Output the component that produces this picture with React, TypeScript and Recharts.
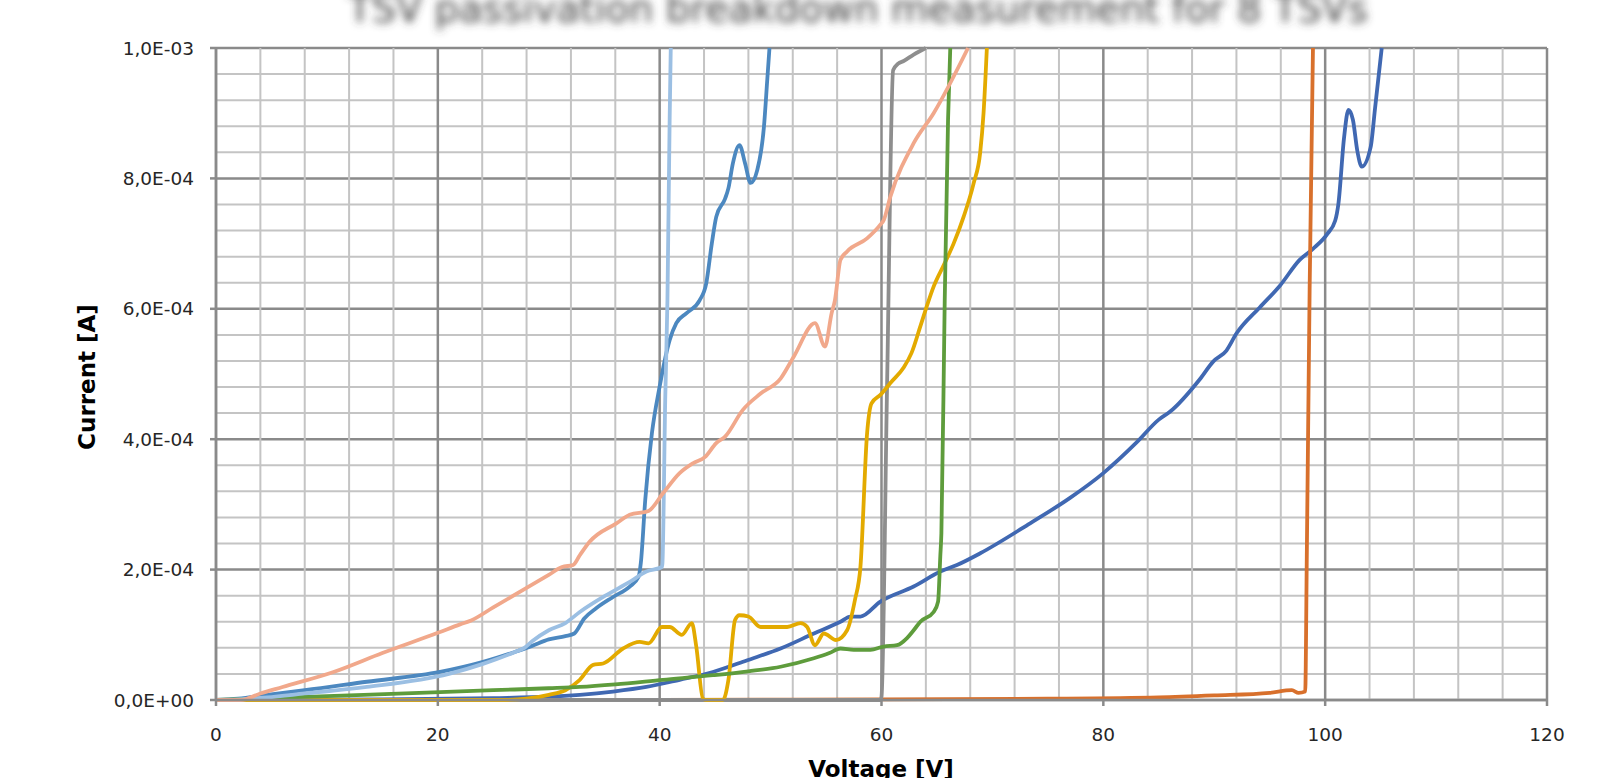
import React from 'react';
import { LineChart, Line, XAxis, YAxis, CartesianGrid } from 'recharts';

type P = { x: number; y: number };
const pts = (a: number[][]): P[] => a.map(([x, y]) => ({ x, y }));

// Voltage [V] vs Current [A]
const darkBlue = pts([
  [0, 0], [15, 0.01e-4], [25, 0.03e-4], [30, 0.05e-4], [32.8, 0.08e-4], [35.8, 0.13e-4], [38.8, 0.2e-4],
  [41.8, 0.31e-4], [44.8, 0.43e-4], [47.9, 0.61e-4], [50.9, 0.79e-4], [53.9, 1.02e-4], [56.3, 1.2e-4],
  [57.2, 1.28e-4], [58.1, 1.28e-4], [59.9, 1.51e-4], [62.9, 1.74e-4], [65.3, 1.97e-4], [66.8, 2.07e-4],
  [68.9, 2.25e-4], [73.4, 2.71e-4], [77, 3.1e-4], [80, 3.48e-4], [83, 3.95e-4], [85, 4.3e-4], [86, 4.42e-4],
  [88.7, 4.92e-4], [89.9, 5.19e-4], [91.1, 5.36e-4], [92, 5.62e-4], [94.1, 6.02e-4], [95.9, 6.35e-4],
  [97.7, 6.75e-4], [98.9, 6.92e-4], [100.2, 7.15e-4], [100.9, 7.35e-4], [101.2, 7.62e-4], [101.7, 8.62e-4],
  [102.1, 9.05e-4], [102.5, 8.9e-4], [102.9, 8.42e-4], [103.3, 8.18e-4], [104.1, 8.48e-4], [104.5, 9.08e-4],
  [105.1, 1.0e-3],
]);
const orange = pts([
  [0, 0], [40, 0], [60, 0.01e-4], [75, 0.02e-4], [85, 0.04e-4], [90, 0.07e-4], [95, 0.11e-4], [97, 0.15e-4],
  [97.6, 0.11e-4], [98.2, 0.13e-4], [98.35, 2.3e-4], [98.6, 6.3e-4], [98.9, 1.0e-3],
]);
const gray = pts([
  [0, 0], [59.9, 0], [60.0, 0.05e-4], [60.5, 4.8e-4], [61.05, 9.66e-4], [61.5, 9.76e-4], [62, 9.8e-4],
  [62.9, 9.9e-4], [64, 1.0e-3],
]);
const gold = pts([
  [0, 0], [26, 0], [28, 0.02e-4], [30, 0.08e-4], [31.5, 0.15e-4], [32.8, 0.31e-4], [34.0, 0.54e-4],
  [34.9, 0.56e-4], [36.7, 0.79e-4], [38.2, 0.89e-4], [39.0, 0.87e-4], [40.2, 1.12e-4], [40.9, 1.12e-4],
  [42.0, 1.0e-4], [42.9, 1.18e-4], [43.3, 0.82e-4], [43.9, 0.02e-4], [44.2, 0], [45.7, 0], [46.2, 0.31e-4],
  [46.8, 1.23e-4], [47.2, 1.3e-4], [48.0, 1.28e-4], [49.1, 1.12e-4], [51.5, 1.12e-4], [52.7, 1.18e-4],
  [53.3, 1.12e-4], [54.0, 0.84e-4], [54.8, 1.02e-4], [55.9, 0.92e-4], [56.9, 1.07e-4], [57.6, 1.53e-4],
  [58.1, 2.04e-4], [58.7, 4.09e-4], [59.1, 4.55e-4], [59.9, 4.68e-4], [60.9, 4.88e-4], [62.0, 5.1e-4],
  [62.7, 5.32e-4], [63.5, 5.73e-4], [64.2, 6.1e-4], [64.7, 6.34e-4], [65.7, 6.7e-4], [66.5, 7.0e-4],
  [67.4, 7.41e-4], [68.3, 7.92e-4], [68.9, 8.4e-4], [69.2, 9.0e-4], [69.5, 1.0e-3],
]);
const steelBlue = pts([
  [0, 0], [2, 0.02e-4], [4.6, 0.08e-4], [8, 0.15e-4], [13.6, 0.28e-4], [20.2, 0.43e-4], [24, 0.58e-4],
  [27, 0.74e-4], [28.5, 0.83e-4], [30, 0.93e-4], [31.5, 0.98e-4], [32.3, 1.02e-4], [33.2, 1.25e-4],
  [34.3, 1.41e-4], [35.8, 1.58e-4], [37.3, 1.74e-4], [38.1, 1.89e-4], [38.3, 2.1e-4], [38.7, 3.07e-4],
  [39.3, 4.09e-4], [40.0, 4.81e-4], [40.9, 5.52e-4], [41.5, 5.78e-4], [42.4, 5.93e-4], [43.6, 6.13e-4],
  [44.2, 6.39e-4], [44.7, 7.0e-4], [45.1, 7.41e-4], [45.9, 7.69e-4], [46.2, 7.85e-4], [46.6, 8.23e-4],
  [47.2, 8.51e-4], [47.7, 8.23e-4], [48.2, 7.93e-4], [48.8, 8.13e-4], [49.4, 8.79e-4], [49.7, 9.51e-4],
  [49.9, 1.0e-3],
]);
const green = pts([
  [0, 0], [5, 0.03e-4], [10, 0.06e-4], [20.2, 0.12e-4], [25, 0.15e-4], [30, 0.18e-4], [32.8, 0.2e-4],
  [36, 0.24e-4], [40.3, 0.31e-4], [44.8, 0.38e-4], [48, 0.44e-4], [50.9, 0.51e-4], [53.9, 0.64e-4],
  [55.3, 0.72e-4], [56.3, 0.79e-4], [57.5, 0.77e-4], [59.0, 0.77e-4], [60.2, 0.82e-4], [61.4, 0.84e-4],
  [62.3, 0.95e-4], [62.9, 1.07e-4], [63.5, 1.2e-4], [64.7, 1.35e-4], [65.1, 1.51e-4], [65.3, 2.2e-4],
  [65.4, 2.56e-4], [65.7, 6.13e-4], [66.0, 8.9e-4], [66.2, 1.0e-3],
]);
const lightBlue = pts([
  [0, 0], [2, 0.01e-4], [4.6, 0.04e-4], [8, 0.1e-4], [13.6, 0.2e-4], [21, 0.4e-4], [24, 0.55e-4],
  [27, 0.74e-4], [27.8, 0.8e-4], [28.5, 0.9e-4], [30, 1.07e-4], [31.5, 1.18e-4], [32.8, 1.35e-4],
  [35.2, 1.61e-4], [37.3, 1.81e-4], [38.8, 1.97e-4], [40.2, 2.04e-4], [40.25, 2.1e-4], [40.5, 4.6e-4],
  [40.7, 6.13e-4], [40.9, 8.9e-4], [41.0, 1.0e-3],
]);
const salmon = pts([
  [0, 0], [2.2, 0], [4, 0.1e-4], [6, 0.2e-4], [10.6, 0.43e-4], [15, 0.72e-4], [20, 1.03e-4], [22, 1.16e-4],
  [23, 1.22e-4], [25, 1.42e-4], [28, 1.72e-4], [30, 1.92e-4], [31.2, 2.04e-4], [32.2, 2.07e-4],
  [32.8, 2.22e-4], [33.7, 2.43e-4], [36.1, 2.71e-4], [37.3, 2.84e-4], [39.0, 2.9e-4], [40.3, 3.17e-4],
  [41.8, 3.48e-4], [43.0, 3.63e-4], [44.1, 3.73e-4], [45.1, 3.94e-4], [45.9, 4.04e-4], [47.5, 4.45e-4],
  [49.1, 4.7e-4], [50.9, 4.93e-4], [52.1, 5.27e-4], [54.0, 5.78e-4], [54.9, 5.42e-4], [55.5, 5.93e-4],
  [55.8, 6.13e-4], [56.3, 6.75e-4], [56.9, 6.88e-4], [58.7, 7.08e-4], [59.9, 7.29e-4], [60.2, 7.36e-4],
  [60.8, 7.72e-4], [62.9, 8.54e-4], [64.7, 9.0e-4], [67.8, 1.0e-3],
]);

const xMajorTicks = [0, 20, 40, 60, 80, 100, 120];
const xMinorTicks = [0, 4, 8, 12, 16, 20, 24, 28, 32, 36, 40, 44, 48, 52, 56, 60, 64, 68, 72, 76, 80, 84, 88, 92, 96, 100, 104, 108, 112, 116, 120];
const yMajorTicks = [0, 2e-4, 4e-4, 6e-4, 8e-4, 1e-3];
const yMinorTicks = [0, 0.4e-4, 0.8e-4, 1.2e-4, 1.6e-4, 2.0e-4, 2.4e-4, 2.8e-4, 3.2e-4, 3.6e-4, 4.0e-4, 4.4e-4, 4.8e-4, 5.2e-4, 5.6e-4, 6.0e-4, 6.4e-4, 6.8e-4, 7.2e-4, 7.6e-4, 8.0e-4, 8.4e-4, 8.8e-4, 9.2e-4, 9.6e-4, 10.0e-4];

const series = [
  { name: 'S1', data: darkBlue, color: '#4068B2' },
  { name: 'S2', data: orange, color: '#D8702C' },
  { name: 'S3', data: gray, color: '#8E8E8E' },
  { name: 'S4', data: gold, color: '#E3AA00' },
  { name: 'S5', data: steelBlue, color: '#4C88C0' },
  { name: 'S6', data: green, color: '#5E9C3C' },
  { name: 'S7', data: lightBlue, color: '#9BBFE3' },
  { name: 'S8', data: salmon, color: '#F1A88B' },
];

const titleText = 'TSV passivation breakdown measurement for 8 TSVs';
const xLabel = 'Voltage [V]';
const yLabel = 'Current [A]';

const fmt = (v: number) => {
  if (v === 0) return '0,0E+00';
  const [m, e] = v.toExponential(1).split('e');
  const n = parseInt(e, 10);
  return m.replace('.', ',') + 'E' + (n < 0 ? '-' : '+') + String(Math.abs(n)).padStart(2, '0');
};

const FONT = 'DejaVu Sans';
const TICK_FS = 18.5;
const TICK_FILL = '#262626';
const AXIS = '#8A8A8A';
const MINOR = '#C4C4C4';

const isMajorX = (v: number) => xMajorTicks.some((m) => Math.abs(m - v) < 1e-9);
const isMajorY = (v: number) => yMajorTicks.some((m) => Math.abs(m - v) < 1e-12);

const XTick = (props: any) => {
  const { x, y, payload } = props;
  const v = payload?.value;
  if (!isMajorX(v)) return <g />;
  return (
    <g>
      <line x1={x} x2={x} y1={y - 28} y2={y - 22} stroke={AXIS} strokeWidth={2.5} />
      <text x={x} y={y} dy="0.71em" textAnchor="middle" fontFamily={FONT} fontSize={TICK_FS} fill={TICK_FILL}>
        {String(v)}
      </text>
    </g>
  );
};

const YTick = (props: any) => {
  const { x, y, payload } = props;
  const v = payload?.value;
  if (!isMajorY(v)) return <g />;
  return (
    <g>
      <line x1={x + 16} x2={x + 22} y1={y} y2={y} stroke={AXIS} strokeWidth={2.5} />
      <text x={x} y={y} dy="0.355em" textAnchor="end" fontFamily={FONT} fontSize={TICK_FS} fill={TICK_FILL}>
        {fmt(v)}
      </text>
    </g>
  );
};

const VLine = (props: any) => {
  const { x1, x2, y1, y2, index } = props;
  const v = xMinorTicks[index];
  const major = v !== undefined && isMajorX(v);
  return (
    <line
      key={`v-${index}`}
      x1={x1}
      x2={x2}
      y1={y1}
      y2={y2}
      stroke={major ? AXIS : MINOR}
      strokeWidth={major ? 2.5 : 2}
      fill="none"
    />
  );
};

const HLine = (props: any) => {
  const { x1, x2, y1, y2, index } = props;
  const v = yMinorTicks[index];
  const major = v !== undefined && isMajorY(v);
  return (
    <line
      key={`h-${index}`}
      x1={x1}
      x2={x2}
      y1={y1}
      y2={y2}
      stroke={major ? AXIS : MINOR}
      strokeWidth={major ? 2.5 : 2}
      fill="none"
    />
  );
};

export default function App() {
  return (
    <div style={{ position: 'absolute', left: 0, top: 0, width: 1599, height: 778, background: '#fff', overflow: 'hidden' }}>
      <LineChart width={1599} height={778} margin={{ top: 48, right: 52, bottom: 0, left: 0 }}>
        <CartesianGrid vertical={VLine} horizontal={HLine} />
        <XAxis
          type="number"
          dataKey="x"
          domain={[0, 120]}
          ticks={xMinorTicks}
          interval={0}
          height={78}
          tickSize={6}
          tickMargin={22}
          tick={XTick}
          tickLine={false}
          axisLine={{ stroke: AXIS, strokeWidth: 2.5 }}
        />
        <YAxis
          type="number"
          domain={[0, 1e-3]}
          ticks={yMinorTicks}
          interval={0}
          width={216}
          tickSize={6}
          tickMargin={16}
          tick={YTick}
          tickLine={false}
          axisLine={{ stroke: AXIS, strokeWidth: 2.5 }}
        />
        {series.map((s) => (
          <Line
            key={s.name}
            data={s.data}
            dataKey="y"
            name={s.name}
            type="monotone"
            stroke={s.color}
            strokeWidth={3.8}
            dot={false}
            activeDot={false}
            isAnimationActive={false}
          />
        ))}
      </LineChart>
      <svg width={1599} height={778} style={{ position: 'absolute', left: 0, top: 0, pointerEvents: 'none' }}>
        <defs>
          <filter id="titleBlur" x="-5%" y="-50%" width="110%" height="200%">
            <feGaussianBlur stdDeviation="4.5" />
          </filter>
        </defs>
        <text x={858} y={22} textAnchor="middle" fontFamily={FONT} fontSize={38.5} fill="#404040" filter="url(#titleBlur)">
          {titleText}
        </text>
        <text transform="translate(95,377) rotate(-90)" textAnchor="middle" fontFamily={FONT} fontWeight="bold" fontSize={23} fill="#000">
          {yLabel}
        </text>
        <text x={881} y={777} textAnchor="middle" fontFamily={FONT} fontWeight="bold" fontSize={23} fill="#000">
          {xLabel}
        </text>
      </svg>
    </div>
  );
}
